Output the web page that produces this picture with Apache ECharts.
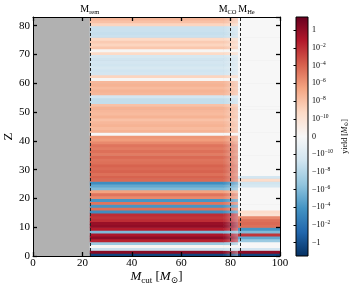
<!DOCTYPE html>
<html><head><meta charset="utf-8">
<script src="https://cdn.jsdelivr.net/npm/echarts@6/dist/echarts.min.js"></script>
<style>html,body{margin:0;padding:0;background:#fff}#c{width:356px;height:291px}</style>
</head><body><div id="c"></div>
<script>
// ---- data ----
const mRem = 23, mCO = 80, mHe = 84;          // marked masses
const fadeStart = 77, mTrans = 83, mMax = 100; // M_cut segments
const xTicks = [0, 20, 40, 60, 80, 100];
const zTicks = [0, 10, 20, 30, 40, 50, 60, 70, 80];
// yield [Msun] per Z = 1..83, for M_cut between M_rem and the transition
const innerYield = [
  -3, 2, -1e-9, 1e-11, -1e-7, 0.03, 1.5, 0.1, -1e-6, 0.05,
  1, 0.5, 0.01, 0.005, 0.01, -3e-4, 3e-5, -1e-4, 2e-5, -1e-4,
  3e-6, 2e-5, 3e-7, -1e-6, -1e-5, -3e-4, 5e-5, 1e-4, 3e-5, 1e-4,
  5e-5, 1e-4, 3e-5, 2e-5, 5e-5, 1e-5, 3e-5, 1e-5, 2e-5, 3e-6,
  5e-7, 1e-6, 0, 5e-8, 2e-8, 5e-8, 3e-8, 1e-8, 5e-8, 2e-8,
  3e-8, 5e-8, 1e-8, -2e-9, -2e-9, -3e-10, 3e-8, 5e-8, 2e-8, 5e-8,
  3e-8, 1e-11, 1e-9, -3e-10, -5e-10, -2e-10, -5e-10, -3e-10, -5e-10, -2e-10,
  5e-10, 1e-11, 5e-9, 1e-9, 3e-9, 5e-10, -1e-9, -1.5e-9, -1e-9, -1e-9,
  1e-9, 1e-8, 3e-8
];
// yield [Msun] per Z = 1..83, for M_cut above the transition
const outerYield = [
  -3, 1.5, -3e-10, 0, 0, -1e-7, -1e-5, 0.005, -1e-6, -1e-4,
  3e-5, 5e-5, 3e-5, 3e-6, 1e-10, 3e-10, 0, 0, 0, 0,
  0, 0, 0, 0, -2e-10, -5e-10, 3e-10, -3e-10, 0, 0,
  0, 0, 0, 0, 0, 0, 0, 0, 0, 0,
  0, 0, 0, 0, 0, 0, 0, 0, 0, 0,
  0, 0, 0, 0, 0, 0, 0, 0, 0, 0,
  0, 0, 0, 0, 0, 0, 0, 0, 0, 0,
  0, 0, 0, 0, 0, 0, 0, 0, 0, 0,
  0, 0, 0
];
const cbTickValues = [1, 1e-2, 1e-4, 1e-6, 1e-8, 1e-10, 0, -1e-10, -1e-8, -1e-6, -1e-4, -1e-2, -1];

// ---- colour scale (symlog, RdBu_r) ----
const linthresh = 1e-10, linWidth = 2, pMax = 13.5;
const RDBU_R = ['#053061','#2166ac','#4393c3','#92c5de','#d1e5f0','#f7f7f7','#fddbc7','#f4a582','#d6604d','#b2182b','#67001f'];
function symlog(v){
  const a = Math.abs(v), s = Math.sign(v);
  if (a >= linthresh) return s * (Math.log10(a) - Math.log10(linthresh) + linWidth);
  return s * a / linthresh * linWidth;
}
function hex2rgb(h){ return [parseInt(h.substr(1,2),16), parseInt(h.substr(3,2),16), parseInt(h.substr(5,2),16)]; }
function rgb2str(c){ return 'rgb(' + c.map(x => Math.round(x)).join(',') + ')'; }
function mixRgb(a, b, f){ return [a[0]+(b[0]-a[0])*f, a[1]+(b[1]-a[1])*f, a[2]+(b[2]-a[2])*f]; }
function colorRgb(v){
  let t = symlog(v) / pMax; t = Math.max(-1, Math.min(1, t));
  const u = (t + 1) / 2 * 10;
  const i = Math.min(9, Math.floor(u)), f = u - i;
  return mixRgb(hex2rgb(RDBU_R[i]), hex2rgb(RDBU_R[i+1]), f);
}

// ---- build cells ----
const cells = [];
innerYield.forEach((v, i) => {
  const z = i + 1;
  cells.push([mRem, fadeStart, z - 1, z, v, 0]);
  cells.push([fadeStart, mTrans, z - 1, z, v, 1]);
  cells.push([mTrans, mMax, z - 1, z, outerYield[i], 0]);
});

const FONT = 'Liberation Serif, DejaVu Serif, serif';
const chart = echarts.init(document.getElementById('c'), null, {renderer: 'canvas'});
const tickPos = cbTickValues.map(symlog);
function cbLabel(val){
  let k = 0, best = 1e9;
  tickPos.forEach((p, j) => { if (Math.abs(p - val) < best){ best = Math.abs(p - val); k = j; } });
  const v = cbTickValues[k];
  if (v === 0) return '{b|0}';
  const sign = v < 0 ? '\u2212' : '';
  const e = Math.round(Math.log10(Math.abs(v)));
  if (e === 0) return '{b|' + sign + '1}';
  return '{b|' + sign + '10}{sup|\u2212' + (-e) + '}';
}

const axisCommon = {
  type: 'value', z: 5, splitLine: {show: false}, nameMoveOverlap: false,
  axisLine: {show: true, onZero: false, lineStyle: {color: '#000', width: 1}},
  axisTick: {show: true, inside: true, length: 4, lineStyle: {color: '#000', width: 1.3}}
};

chart.setOption({
  animation: false,
  backgroundColor: '#fff',
  grid: [
    {left: 33, right: 76, top: 17, bottom: 35, show: true, backgroundColor: '#b1b1b1', borderWidth: 0,
     containLabel: false, outerBoundsMode: 'none'},
    {left: 296, width: 12, top: 17, bottom: 35, containLabel: false, outerBoundsMode: 'none'}
  ],
  xAxis: [
    Object.assign({}, axisCommon, {gridIndex: 0, position: 'bottom', min: 0, max: 100, interval: 20,
      axisLabel: {color: '#000', fontFamily: FONT, fontSize: 11, margin: 2},
      name: '{i|M}{s|cut}{n| [}{i|M}{s|\u2299}{n|]}', nameLocation: 'middle', nameGap: 13,
      nameTextStyle: {rich: {
        i: {fontFamily: FONT, fontStyle: 'italic', fontSize: 13, lineHeight: 16, color: '#000'},
        n: {fontFamily: FONT, fontSize: 13, lineHeight: 16, color: '#000'},
        s: {fontFamily: FONT, fontSize: 9, verticalAlign: 'bottom', color: '#000'}
      }}}),
    Object.assign({}, axisCommon, {gridIndex: 0, position: 'top', min: 0, max: 100, interval: 20,
      axisLabel: {show: false}}),
    {gridIndex: 1, type: 'value', min: 0, max: 1, show: false}
  ],
  yAxis: [
    Object.assign({}, axisCommon, {gridIndex: 0, position: 'left', min: 0, max: 83, interval: 10,
      axisLabel: {color: '#000', fontFamily: FONT, fontSize: 11, margin: 3},
      name: 'Z', nameLocation: 'middle', nameGap: 18,
      nameTextStyle: {fontFamily: FONT, fontSize: 13, color: '#000'}}),
    Object.assign({}, axisCommon, {gridIndex: 0, position: 'right', min: 0, max: 83, interval: 10,
      axisLabel: {show: false}}),
    {gridIndex: 1, type: 'value', min: -pMax, max: pMax, position: 'right', z: 5, nameMoveOverlap: false,
      splitLine: {show: false}, axisLine: {show: false},
      axisTick: {show: true, inside: true, length: 2.5, customValues: tickPos, lineStyle: {color: '#000', width: 1}},
      axisLabel: {customValues: tickPos, margin: 4, formatter: cbLabel, rich: {
        b: {fontFamily: FONT, fontSize: 8, lineHeight: 11, color: '#000'},
        sup: {fontFamily: FONT, fontSize: 5.5, verticalAlign: 'top', color: '#000'}
      }},
      name: 'yield [{i|M}{s|\u2299}]', nameLocation: 'middle', nameRotate: 90, nameGap: 31,
      nameTextStyle: {fontFamily: FONT, fontSize: 8, color: '#000', rich: {
        i: {fontFamily: FONT, fontStyle: 'italic', fontSize: 8, lineHeight: 11, color: '#000'},
        s: {fontFamily: FONT, fontSize: 5.5, verticalAlign: 'bottom', color: '#000'}
      }}}
  ],
  series: [
    {
      type: 'custom', xAxisIndex: 0, yAxisIndex: 0, clip: true, z: 2,
      encode: {x: [0, 1], y: [2, 3]},
      data: cells,
      renderItem(params, api){
        const a = api.coord([api.value(0), api.value(3)]);
        const b = api.coord([api.value(1), api.value(2)]);
        const c = colorRgb(api.value(4));
        let fill = rgb2str(c);
        if (api.value(5)) {
          fill = new echarts.graphic.LinearGradient(0, 0, 1, 0, [
            {offset: 0, color: rgb2str(c)},
            {offset: 1, color: rgb2str(mixRgb(c, hex2rgb('#f7f7f7'), 0.45))}
          ]);
        }
        return {type: 'rect', shape: {x: a[0], y: a[1], width: b[0] - a[0] + 0.5, height: b[1] - a[1] + 0.6},
          style: {fill: fill}};
      },
      markLine: {
        silent: true, symbol: 'none', animation: false,
        lineStyle: {color: '#222', type: [3, 2], width: 1},
        label: {show: true, position: 'end', distance: 1,
          formatter: p => '{m|M}{s|' + p.name + '}',
          rich: {
            m: {fontFamily: FONT, fontSize: 10, lineHeight: 13, color: '#000'},
            s: {fontFamily: FONT, fontSize: 6.5, verticalAlign: 'bottom', color: '#000'}
          }},
        data: [
          {name: 'rem', xAxis: mRem},
          {name: 'CO', xAxis: mCO, label: {offset: [-3, 0]}},
          {name: 'He', xAxis: mHe, label: {offset: [6, 0]}}
        ]
      }
    },
    {
      type: 'custom', xAxisIndex: 2, yAxisIndex: 2, z: 2,
      encode: {x: [0, 1], y: [2, 3]},
      data: [[0, 1, -pMax, pMax]],
      renderItem(params, api){
        const a = api.coord([api.value(0), api.value(3)]);
        const b = api.coord([api.value(1), api.value(2)]);
        return {type: 'rect', shape: {x: a[0], y: a[1], width: b[0] - a[0], height: b[1] - a[1]},
          style: {
            fill: new echarts.graphic.LinearGradient(0, 1, 0, 0, RDBU_R.map((col, i) => ({offset: i / 10, color: col}))),
            stroke: '#000', lineWidth: 1
          }};
      }
    }
  ]
});
</script></body></html>
